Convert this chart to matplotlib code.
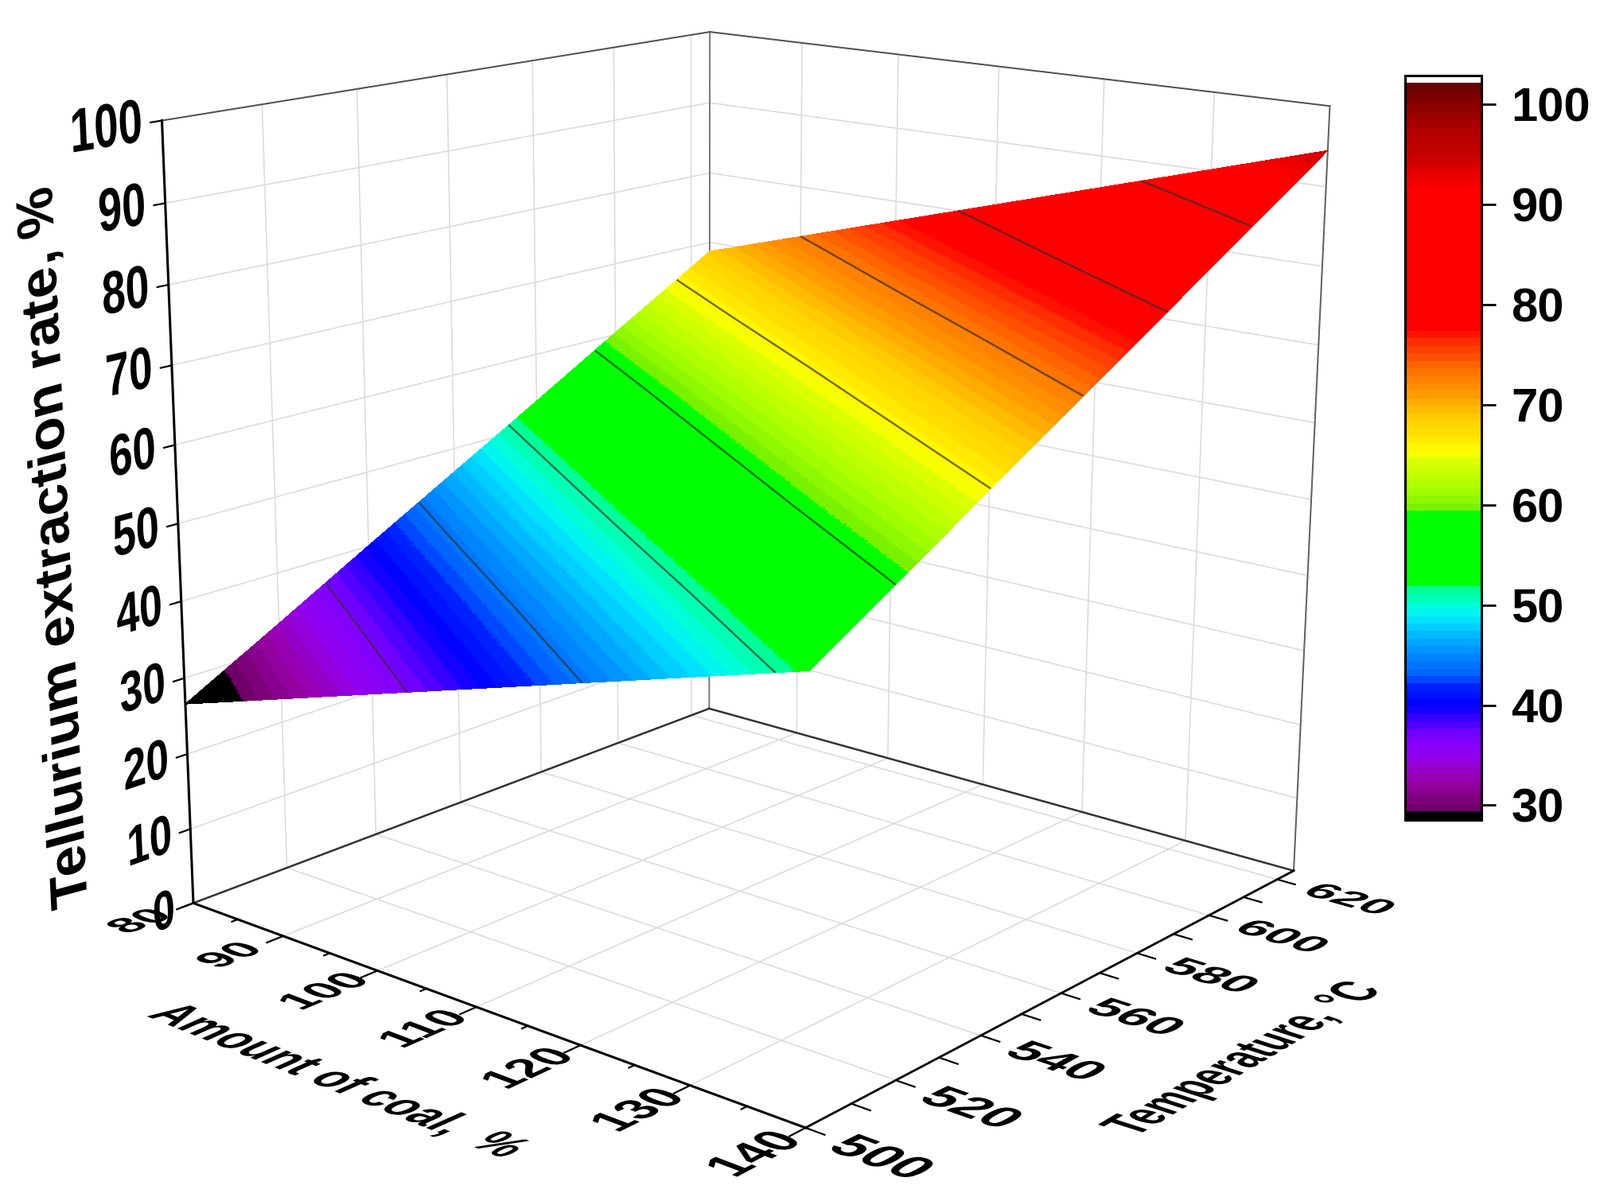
import numpy as np
import matplotlib
matplotlib.use('Agg')
import matplotlib.pyplot as plt
from matplotlib.colors import LinearSegmentedColormap, ListedColormap, BoundaryNorm
from matplotlib.patheffects import AbstractPathEffect
from matplotlib.transforms import Affine2D

# data
coal = [80, 90, 100, 110, 120, 130, 140]
temperature = [500, 520, 540, 560, 580, 600, 620, 625]
extraction = [
    [26.6, 30.9, 35.2, 39.5, 43.8, 48.1, 52.4],
    [33.3, 37.6, 41.9, 46.2, 50.5, 54.8, 59.1],
    [40.1, 44.4, 48.7, 53.0, 57.3, 61.6, 65.9],
    [46.8, 51.1, 55.4, 59.7, 64.0, 68.3, 72.6],
    [53.5, 57.8, 62.1, 66.4, 70.7, 75.0, 79.3],
    [60.3, 64.6, 68.9, 73.2, 77.5, 81.8, 86.1],
    [67.0, 71.3, 75.6, 79.9, 84.2, 88.5, 92.8],
    [68.7, 73.0, 77.3, 81.6, 85.9, 90.2, 94.5],
]
contour_levels = [36.8, 44, 51.2, 58.5, 65.7, 73, 80, 87.5]
coal_minor = [85, 95, 105, 115, 125, 135]
temp_labels = [500, 520, 540, 560, 580, 600, 620]
temp_ticks = [500, 510, 520, 530, 540, 550, 560, 570, 580, 590, 600, 610, 620]
z_ticks = [0, 10, 20, 30, 40, 50, 60, 70, 80, 90, 100]
cbar_ticks = [30, 40, 50, 60, 70, 80, 90, 100]

# colour scale, value -> colour, as seen on the colour bar
scale_values = [29.4, 32.4, 35, 36.8, 38.2, 40, 41.7, 43, 45.7, 48.3, 49.7, 50.5, 52, 52.1,
                59.3, 59.4, 61.6, 64.2, 65.3, 67, 68.6, 70.8, 73.5, 76.2, 77.5, 91.6, 94.8,
                97.5, 100.2, 102.3]
scale_colors = ['#6a0060', '#9900aa', '#9000f0', '#7f00ff', '#4b00ff', '#0000ff', '#0020ff',
                '#0060ff', '#0098ff', '#00dcff', '#00ffe8', '#00ffc0', '#00ff80', '#00ff00',
                '#00ff00', '#70f000', '#a8ff00', '#d8ff00', '#ffff00', '#ffe000', '#ffd000',
                '#ffa000', '#ff7000', '#ff3000', '#ff0000', '#ff0000', '#c80000', '#b00000',
                '#880000', '#600000']

plt.rcParams['font.family'] = ['Liberation Sans', 'DejaVu Sans']
plt.rcParams['font.weight'] = 'bold'
plt.rcParams['grid.color'] = '#dcdcdc'
plt.rcParams['grid.linewidth'] = 1.2

W, H = 2011, 1510
FS = 42
xlim = (80, 140)
ylim = (500, 625)
zlim = (0, 100)

# box corners in the picture (normalised x, y, z -> pixel, y from top)
box_corners = [
    ((0, 0, 0), (243, 1135)), ((0, 0, 1), (203, 152)),
    ((1, 0, 0), (1013, 1418)), ((1, 1, 0), (1626, 1095)),
    ((1, 1, 1), (1671, 133)), ((0, 1, 0), (891, 891)),
    ((0, 1, 1), (893, 40)),
]


def fit_camera():
    # solve the perspective matrix from the corners
    A, b = [], []
    for (x, y, z), (px, py) in box_corners:
        py = H - py
        A.append([x, y, z, 1, 0, 0, 0, 0, -px * x, -px * y, -px * z])
        A.append([0, 0, 0, 0, x, y, z, 1, -py * x, -py * y, -py * z])
        b += [px, py]
    p = np.linalg.lstsq(np.array(A, float), np.array(b, float), rcond=None)[0]
    norm_m = np.array([p[:4], p[4:8], [-1, 1, -1, 3], [p[8], p[9], p[10], 1.0]])
    world = np.array([
        [1 / (xlim[1] - xlim[0]), 0, 0, -xlim[0] / (xlim[1] - xlim[0])],
        [0, 1 / (ylim[1] - ylim[0]), 0, -ylim[0] / (ylim[1] - ylim[0])],
        [0, 0, 1 / (zlim[1] - zlim[0]), -zlim[0] / (zlim[1] - zlim[0])],
        [0, 0, 0, 1.0],
    ])
    return norm_m @ world


M = fit_camera()


def project(pt):
    v = M @ np.array([pt[0], pt[1], pt[2], 1.0])
    return v[:2] / v[3]


def axis_dir(pt, axis):
    step = np.zeros(3)
    step[axis] = 0.5
    return (project(np.array(pt) + step) - project(np.array(pt) - step))


class OnPlane(AbstractPathEffect):
    # draws text glyphs lying on one face of the box
    def __init__(self, u, v):
        super().__init__()
        self.mat = Affine2D.from_values(u[0], u[1], v[0], v[1], 0, 0)

    def draw_path(self, renderer, gc, tpath, affine, rgbFace=None):
        ext = tpath.get_extents()
        cx, cy = (ext.x0 + ext.x1) / 2, (ext.y0 + ext.y1) / 2
        warp = Affine2D().translate(-cx, -cy) + self.mat + Affine2D().translate(cx, cy)
        renderer.draw_path(gc, tpath, warp + affine, rgbFace)


def plane_text(pt, s, read_axis, up_axis, ka, kb, up_sign=1):
    u = axis_dir(pt, read_axis) * ka
    v = axis_dir(pt, up_axis) * kb * up_sign
    angle = np.degrees(np.arctan2(u[1], u[0]))
    t = ax.text(pt[0], pt[1], pt[2], s, ha='center', va='center', fontsize=FS,
                rotation=angle, rotation_mode='anchor', color='black', zorder=8)
    t.set_path_effects([OnPlane(u, v)])
    return t


fig = plt.figure(figsize=(W / 100, H / 100), dpi=100)
# ortho only switches off the line clipping, the matrix below does the perspective
ax = fig.add_axes([0, 0, 1, 1], projection='3d', computed_zorder=False, proj_type='ortho')
ax.get_proj = lambda: M
ax.apply_aspect = lambda *a, **k: None
ax.viewLim.intervalx = (0, W)
ax.viewLim.intervaly = (0, H)

# band colours
levels = np.arange(29.4, 102.4, 0.75)
ramp = LinearSegmentedColormap.from_list(
    'tellurium', [((v - scale_values[0]) / (scale_values[-1] - scale_values[0]), c)
                  for v, c in zip(scale_values, scale_colors)], N=1024)
mids = (levels[:-1] + levels[1:]) / 2
band_cmap = ListedColormap(ramp((mids - scale_values[0]) / (scale_values[-1] - scale_values[0])))
band_cmap.set_under('black')
band_cmap.set_over('white')
band_norm = BoundaryNorm(levels, band_cmap.N)

# surface, painted on a finer mesh so the colour bands stay narrow
n = 300
fine_coal = np.linspace(coal[0], coal[-1], n)
fine_temp = np.linspace(temperature[0], temperature[-1], n)
by_row = np.array([np.interp(fine_coal, coal, row) for row in extraction])
fine_z = np.array([np.interp(fine_temp, temperature, col) for col in by_row.T]).T
X, Y = np.meshgrid(fine_coal, fine_temp)
surf = ax.plot_surface(X, Y, fine_z, cmap=band_cmap, norm=band_norm, rcount=n, ccount=n,
                       linewidth=0, antialiased=False, shade=False, zorder=4)

C2, T2 = np.meshgrid(coal, temperature)
ax.contour(C2, T2, np.array(extraction), levels=contour_levels, colors='#303030',
           linewidths=1.7, alpha=0.7, zorder=5)

# box edges
x0, x1 = xlim
y0, y1 = ylim
z0, z1 = zlim
back_edges = [
    ((x0, y1, z0), (x0, y1, z1), '#707070', 1.3), ((x0, y0, z1), (x0, y1, z1), '#505050', 1.4),
    ((x0, y1, z1), (x1, y1, z1), '#505050', 1.4), ((x1, y1, z0), (x1, y1, z1), '#606060', 1.4),
    ((x0, y0, z0), (x0, y1, z0), '#333333', 1.8), ((x0, y1, z0), (x1, y1, z0), '#333333', 1.8),
]
front_edges = [
    ((x0, y0, z0), (x0, y0, z1), 'black', 2.2), ((x0, y0, z0), (x1, y0, z0), 'black', 2.2),
    ((x1, y0, z0), (x1, y1, z0), 'black', 2.0),
]
for a, b, col, lw in back_edges:
    ax.plot([a[0], b[0]], [a[1], b[1]], [a[2], b[2]], color=col, lw=lw, zorder=1.5)
for a, b, col, lw in front_edges:
    ax.plot([a[0], b[0]], [a[1], b[1]], [a[2], b[2]], color=col, lw=lw, zorder=6)

# tick marks
for c in coal:
    ax.plot([c, c], [y0, y0 - 3.4], [z0, z0], color='black', lw=1.6, zorder=6)
for c in coal_minor:
    ax.plot([c, c], [y0, y0 - 1.2], [z0, z0], color='black', lw=1.6, zorder=6)
for t in temp_ticks:
    ax.plot([x1, x1 + 1.6], [t, t], [z0, z0], color='black', lw=1.6, zorder=6)
for z in z_ticks:
    ax.plot([x0, x0], [y0, y0 - 2.2], [z, z], color='black', lw=1.6, zorder=6)

# tick labels lying on the box faces
for c in coal:
    plane_text((c + 0.1, y0 - 11.5, z0), str(c), 1, 0, 0.15, 0.072, up_sign=-1)
for t in temp_labels:
    plane_text((x1 + 6.8, t - 1, z0), str(t), 0, 1, 0.072, 0.16)
for z in z_ticks:
    plane_text((x0, y0 - (3.8 + 2.3 * len(str(z))), z), str(z), 1, 2, 0.14, 0.125)

plane_text((111.7, y0 - 31.2, z0), 'Amount of coal,  %', 0, 1, 0.066, 0.16)
plane_text((x1 + 16.1, 558, z0), 'Temperature, °C', 1, 0, 0.146, 0.075, up_sign=-1)
plane_text((x0, y0 - 23.8, 51), 'Tellurium extraction rate, %', 2, 1, 0.117, 0.168, up_sign=-1)

ax.set_xlim(*xlim, view_margin=0)
ax.set_ylim(*ylim, view_margin=0)
ax.set_zlim(*zlim, view_margin=0)
ax.set_xticks(coal)
ax.set_yticks(temp_labels)
ax.set_zticks(z_ticks)
ax.set_xticklabels([])
ax.set_yticklabels([])
ax.set_zticklabels([])
for axis in (ax.xaxis, ax.yaxis, ax.zaxis):
    axis.set_pane_color((1, 1, 1, 1))
    axis.pane.set_edgecolor('none')
    axis.line.set_linewidth(0)
    axis._axinfo['tick']['inward_factor'] = 0
    axis._axinfo['tick']['outward_factor'] = 0

# colour bar
cax = fig.add_axes([1766 / W, 1 - 1031 / H, 96 / W, 936 / H])
cbar = fig.colorbar(surf, cax=cax, extend='both', extendrect=True, extendfrac=(0.012, 0.01),
                    spacing='proportional')
cbar.set_ticks(cbar_ticks)
cbar.set_ticklabels([str(v) for v in cbar_ticks])
cbar.ax.minorticks_off()
cbar.ax.tick_params(length=13, width=2, labelsize=43, pad=14)
cbar.outline.set_linewidth(2.2)

fig.savefig('out.png', dpi=100)
